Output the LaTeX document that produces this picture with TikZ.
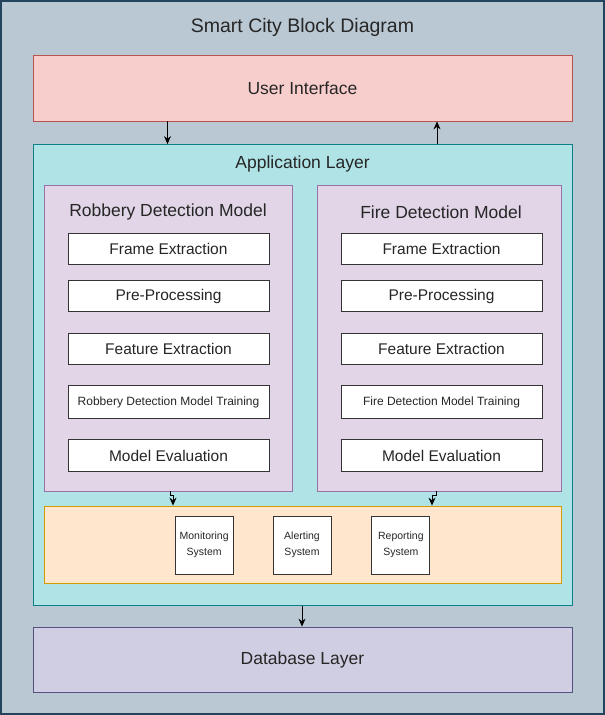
\documentclass[tikz,border=0pt]{standalone}
\usepackage{fontspec}
\setmainfont{Liberation Sans}
\usetikzlibrary{positioning, arrows.meta}

\definecolor{outerfill}{HTML}{BAC8D3}
\definecolor{outerline}{HTML}{23445D}
\definecolor{uifill}{HTML}{F8CECC}
\definecolor{uiline}{HTML}{B85450}
\definecolor{appfill}{HTML}{B0E3E6}
\definecolor{appline}{HTML}{0E8088}
\definecolor{modelfill}{HTML}{E1D5E7}
\definecolor{modelline}{HTML}{9673A6}
\definecolor{sysfill}{HTML}{FFE6CC}
\definecolor{sysline}{HTML}{D79B00}
\definecolor{dbfill}{HTML}{D0CEE2}
\definecolor{dbline}{HTML}{56517E}
\definecolor{txt}{HTML}{262626}

\tikzset{
  layer/.style={draw, line width=0.8pt, inner sep=0pt, text=txt},
  caption/.style={text=txt, font=\fontsize{17.5}{20}\selectfont},
  stepbox/.style={draw=black!80, fill=white, line width=0.9pt, minimum width=201pt,
    minimum height=31pt, inner sep=0pt, text=txt, font=\fontsize{15.5}{18}\selectfont},
  sysbox/.style={draw=black!80, fill=white, line width=0.9pt, minimum width=58pt,
    minimum height=58pt, inner sep=0pt, align=center, text=txt,
    font=\fontsize{10.5}{16}\selectfont},
  arr/.style={-{Stealth[length=8pt,width=7pt]}, line width=1pt, black},
}

\begin{document}
\begin{tikzpicture}[x=1pt, y=-1pt, node distance=16pt]
  \useasboundingbox (0,0) rectangle (605,715);

  % frame and title
  \node[layer, draw=outerline, fill=outerfill, line width=1.2pt,
        minimum width=603pt, minimum height=713pt] (city) at (302.5,357.5) {};
  \node[text=txt, font=\fontsize{19.5}{22}\selectfont] (title) at (302.5,27) {Smart City Block Diagram};

  % layers
  \node[layer, draw=uiline, fill=uifill, minimum width=539pt, minimum height=66pt,
        caption] (ui) at (302.5,88) {User Interface};
  \node[layer, draw=appline, fill=appfill, minimum width=539pt, minimum height=461pt] (app) at (302.5,375) {};
  \node[caption] (applabel) at (302.5,163.5) {Application Layer};
  \node[layer, draw=dbline, fill=dbfill, minimum width=539pt, minimum height=65pt,
        caption] (db) at (302.5,659.5) {Database Layer};

  % detection models
  \node[layer, draw=modelline, fill=modelfill, minimum width=248pt, minimum height=306pt] (rob) at (168,338) {};
  \node[layer, draw=modelline, fill=modelfill, minimum width=244pt, minimum height=306pt] (fire) at (439,338) {};
  \node[caption] (roblabel) at (168,212) {Robbery Detection Model};
  \node[caption] (firelabel) at (441,212) {Fire Detection Model};

  \node[stepbox] (rframe) at (168.5,248.5) {Frame Extraction};
  \node[stepbox, below=16pt of rframe] (rpre) {Pre-Processing};
  \node[stepbox, below=21pt of rpre] (rfeat) {Feature Extraction};
  \node[stepbox, below=20pt of rfeat, minimum height=33pt, font=\fontsize{12}{14}\selectfont] (rtrain) {Robbery Detection Model Training};
  \node[stepbox, below=20pt of rtrain, minimum height=32pt] (reval) {Model Evaluation};

  \node[stepbox] (fframe) at (441.5,248.5) {Frame Extraction};
  \node[stepbox, below=16pt of fframe] (fpre) {Pre-Processing};
  \node[stepbox, below=21pt of fpre] (ffeat) {Feature Extraction};
  \node[stepbox, below=20pt of ffeat, minimum height=33pt, font=\fontsize{12}{14}\selectfont] (ftrain) {Fire Detection Model Training};
  \node[stepbox, below=20pt of ftrain, minimum height=32pt] (feval) {Model Evaluation};

  % output systems
  \node[layer, draw=sysline, fill=sysfill, minimum width=517pt, minimum height=77pt] (systems) at (302.5,544.5) {};
  \node[sysbox] (alert) at (302,545) {Alerting\\System};
  \node[sysbox, left=39pt of alert] (monitor) {Monitoring\\System};
  \node[sysbox, right=40pt of alert] (report) {Reporting\\System};

  % connectors
  \draw[arr] ([xshift=-135pt]ui.south) -- ([xshift=-135pt]app.north);
  \draw[arr] ([xshift=134.5pt]app.north) -- ([xshift=134.5pt]ui.south);
  \draw[arr] ([xshift=2pt]rob.south) -- ++(0,4) -| ([xshift=5pt]rob.south |- systems.north);
  \draw[arr] ([xshift=-3pt]fire.south) -- ++(0,4) -| ([xshift=-7pt]fire.south |- systems.north);
  \draw[arr] ([xshift=-0.5pt]app.south) -- ([xshift=-0.5pt]db.north);
\end{tikzpicture}
\end{document}
